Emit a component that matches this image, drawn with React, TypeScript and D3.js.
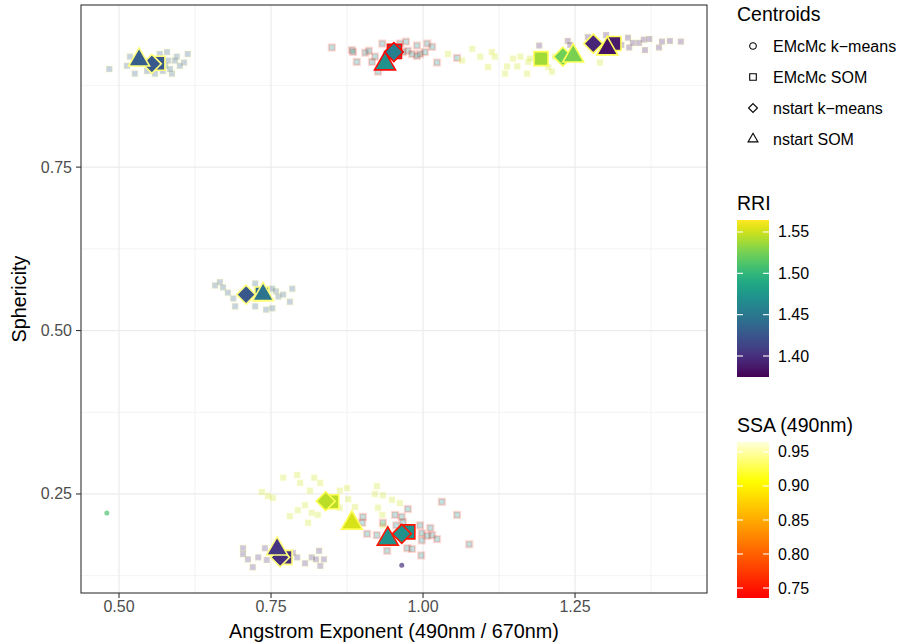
import React, { useEffect, useRef } from "react";
import * as d3 from "d3";

// axis limits and ticks
const xLimits = [0.4375, 1.467];
const yLimits = [0.0985, 0.998];
const xTicks = [0.5, 0.75, 1.0, 1.25];
const xMinor = [0.625, 0.875, 1.125, 1.375];
const yTicks = [0.25, 0.5, 0.75];
const yMinor = [0.125, 0.375, 0.625, 0.875];
const rriLimits = [1.3746, 1.5645];
const rriTicks = [1.4, 1.45, 1.5, 1.55];
const ssaLimits = [0.7353, 0.9647];
const ssaTicks = [0.75, 0.8, 0.85, 0.9, 0.95];

// background cluster members: [angstrom, sphericity]
const topLeftPts = [
  [0.484, 0.9], [0.518, 0.919], [0.526, 0.893], [0.513, 0.905], [0.567, 0.923],
  [0.579, 0.926], [0.595, 0.919], [0.613, 0.923], [0.607, 0.91], [0.587, 0.893],
  [0.576, 0.905], [0.581, 0.913], [0.559, 0.893], [0.584, 0.9], [0.592, 0.913],
  [0.535, 0.908], [0.572, 0.897], [0.546, 0.897], [0.57, 0.915], [0.6, 0.905],
];
const topMidPts = [
  [0.85, 0.933], [0.883, 0.929], [0.885, 0.926], [0.891, 0.911], [0.905, 0.925],
  [0.911, 0.928], [0.916, 0.911], [0.921, 0.919], [0.933, 0.939], [0.962, 0.939],
  [0.972, 0.942], [0.975, 0.928], [0.982, 0.923], [0.99, 0.936], [0.995, 0.923],
  [1.007, 0.939], [1.015, 0.934], [1.003, 0.926], [1.023, 0.91], [1.056, 0.917],
  [0.926, 0.896], [0.99, 0.92], [0.967, 0.926],
];
const topRightPalePts = [
  [1.041, 0.923], [1.064, 0.913], [1.081, 0.931], [1.094, 0.919], [1.107, 0.903],
  [1.113, 0.926], [1.118, 0.919], [1.135, 0.893], [1.138, 0.904], [1.148, 0.916],
  [1.16, 0.919], [1.155, 0.904], [1.171, 0.893], [1.173, 0.911], [1.176, 0.916],
  [1.206, 0.903], [1.212, 0.896], [1.217, 0.919], [1.291, 0.91],
];
const topRightDarkPts = [
  [1.191, 0.936], [1.238, 0.943], [1.242, 0.937], [1.271, 0.949], [1.301, 0.952],
  [1.326, 0.937], [1.337, 0.948], [1.339, 0.933], [1.345, 0.94], [1.355, 0.94],
  [1.363, 0.945], [1.365, 0.929], [1.372, 0.946], [1.388, 0.933], [1.393, 0.942],
  [1.406, 0.943], [1.424, 0.942],
];
const middlePts = [
  [0.658, 0.569], [0.666, 0.574], [0.671, 0.566], [0.679, 0.558], [0.688, 0.549],
  [0.691, 0.537], [0.724, 0.572], [0.724, 0.537], [0.742, 0.532], [0.752, 0.534],
  [0.758, 0.56], [0.762, 0.552], [0.77, 0.555], [0.785, 0.564], [0.781, 0.544],
  [0.752, 0.564],
];
const bottomDarkPts = [
  [0.704, 0.167], [0.704, 0.158], [0.712, 0.15], [0.72, 0.138], [0.729, 0.153],
  [0.74, 0.167], [0.743, 0.149], [0.786, 0.16], [0.793, 0.153], [0.806, 0.144],
  [0.817, 0.153], [0.824, 0.15], [0.829, 0.163], [0.831, 0.14], [0.837, 0.15],
  [0.781, 0.149],
];
const bottomPalePts = [
  [0.77, 0.275], [0.793, 0.279], [0.798, 0.267], [0.821, 0.275], [0.831, 0.267],
  [0.735, 0.253], [0.745, 0.247], [0.753, 0.244], [0.814, 0.255], [0.863, 0.255],
  [0.875, 0.259], [0.806, 0.233], [0.794, 0.225], [0.781, 0.216], [0.811, 0.206],
  [0.817, 0.221], [0.827, 0.218], [0.863, 0.229], [0.877, 0.242], [0.888, 0.23],
  [0.924, 0.262], [0.921, 0.25], [0.934, 0.248], [0.949, 0.241], [0.962, 0.236],
  [0.926, 0.229], [0.933, 0.218], [0.934, 0.202],
];
const bottomRedPts = [
  [0.901, 0.215], [0.9, 0.206], [0.908, 0.189], [0.924, 0.187], [0.934, 0.206],
  [0.954, 0.218], [0.956, 0.202], [0.965, 0.215], [0.967, 0.207], [0.975, 0.227],
  [0.995, 0.202], [0.998, 0.19], [0.998, 0.179], [1.012, 0.198], [1.015, 0.187],
  [1.023, 0.181], [1.031, 0.238], [1.056, 0.218], [1.076, 0.173], [0.974, 0.167],
  [0.982, 0.166], [0.997, 0.156], [0.941, 0.163], [1.007, 0.186],
];
const clusterPts = [
  topLeftPts, topMidPts, topRightPalePts, topRightDarkPts,
  middlePts, bottomDarkPts, bottomPalePts, bottomRedPts,
];
const clusterRRI = [1.43, 1.47, 1.55, 1.39, 1.43, 1.4, 1.55, 1.47];
const clusterSSA = [0.95, 0.75, 0.96, 0.95, 0.95, 0.95, 0.96, 0.75];

// centroids
const centroidMethod = [
  "EMcMc k-means", "EMcMc k-means",
  "EMcMc SOM", "EMcMc SOM", "EMcMc SOM", "EMcMc SOM", "EMcMc SOM", "EMcMc SOM", "EMcMc SOM", "EMcMc SOM",
  "nstart k-means", "nstart k-means", "nstart k-means", "nstart k-means", "nstart k-means", "nstart k-means", "nstart k-means", "nstart k-means",
  "nstart SOM", "nstart SOM", "nstart SOM", "nstart SOM", "nstart SOM", "nstart SOM", "nstart SOM", "nstart SOM",
];
const centroidX = [
  0.48, 0.965,
  0.564, 0.953, 1.194, 1.314, 0.735, 0.85, 0.975, 0.773,
  0.554, 0.952, 1.23, 1.28, 0.709, 0.84, 0.965, 0.765,
  0.533, 0.9375, 1.247, 1.303, 0.737, 0.883, 0.942, 0.76,
];
const centroidY = [
  0.221, 0.141,
  0.909, 0.927, 0.916, 0.939, 0.556, 0.238, 0.192, 0.153,
  0.908, 0.926, 0.919, 0.939, 0.555, 0.239, 0.189, 0.153,
  0.914, 0.908, 0.92, 0.931, 0.555, 0.2055, 0.181, 0.166,
];
const centroidRRI = [
  1.51, 1.4,
  1.426, 1.46, 1.538, 1.388, 1.44, 1.545, 1.47, 1.4,
  1.426, 1.455, 1.523, 1.394, 1.426, 1.545, 1.47, 1.4,
  1.43, 1.47, 1.526, 1.384, 1.447, 1.553, 1.47, 1.405,
];
const centroidSSA = [
  0.93, 0.93,
  0.94, 0.74, 0.93, 0.93, 0.94, 0.93, 0.75, 0.94,
  0.94, 0.74, 0.93, 0.93, 0.94, 0.93, 0.75, 0.94,
  0.94, 0.74, 0.93, 0.93, 0.94, 0.93, 0.75, 0.94,
];
const methods = ["EMcMc k-means", "EMcMc SOM", "nstart k-means", "nstart SOM"];
const methodLabels = ["EMcMc k\u2212means", "EMcMc SOM", "nstart k\u2212means", "nstart SOM"];

function heat(t) {
  t = Math.max(0, Math.min(1, t));
  if (t <= 0.75) return d3.rgb(255, Math.round((255 * t) / 0.75), 0).toString();
  return d3.interpolateRgb("#ffff00", "#ffffdc")((t - 0.75) / 0.25);
}

function shapePath(method, s) {
  if (method === "EMcMc k-means") return d3.symbol(d3.symbolCircle, Math.PI * s * s)();
  if (method === "EMcMc SOM") return `M${-s},${-s}H${s}V${s}H${-s}Z`;
  if (method === "nstart k-means") {
    const d = s * 1.35;
    return `M0,${-d}L${d},0L0,${d}L${-d},0Z`;
  }
  const h = s * 2.6;
  const w = h / Math.sqrt(3);
  return `M0,${(-2 * h) / 3}L${w},${h / 3}L${-w},${h / 3}Z`;
}

export default function App() {
  const ref = useRef(null);

  useEffect(() => {
    document.body.style.margin = "0";
    const width = 899;
    const height = 643;
    const panel = { left: 81, right: 707, top: 5, bottom: 593 };
    const font = "Liberation Sans, Arial, sans-serif";

    d3.select(ref.current).selectAll("*").remove();
    const svg = d3
      .select(ref.current)
      .append("svg")
      .attr("width", width)
      .attr("height", height)
      .style("display", "block")
      .style("font-family", font);

    const x = d3.scaleLinear().domain(xLimits).range([panel.left, panel.right]);
    const y = d3.scaleLinear().domain(yLimits).range([panel.bottom, panel.top]);
    const rriScale = d3.scaleSequential(d3.interpolateViridis).domain(rriLimits);
    const ssaScale = d3.scaleSequential(heat).domain(ssaLimits);

    svg.append("rect").attr("width", width).attr("height", height).attr("fill", "white");

    // grid
    const grid = svg.append("g");
    grid.selectAll(".vmin").data(xMinor).join("line")
      .attr("x1", (d) => x(d)).attr("x2", (d) => x(d))
      .attr("y1", panel.top).attr("y2", panel.bottom)
      .attr("stroke", "#ebebeb").attr("stroke-width", 0.6);
    grid.selectAll(".hmin").data(yMinor).join("line")
      .attr("y1", (d) => y(d)).attr("y2", (d) => y(d))
      .attr("x1", panel.left).attr("x2", panel.right)
      .attr("stroke", "#ebebeb").attr("stroke-width", 0.6);
    grid.selectAll(".vmaj").data(xTicks).join("line")
      .attr("x1", (d) => x(d)).attr("x2", (d) => x(d))
      .attr("y1", panel.top).attr("y2", panel.bottom)
      .attr("stroke", "#ebebeb").attr("stroke-width", 1.2);
    grid.selectAll(".hmaj").data(yTicks).join("line")
      .attr("y1", (d) => y(d)).attr("y2", (d) => y(d))
      .attr("x1", panel.left).attr("x2", panel.right)
      .attr("stroke", "#ebebeb").attr("stroke-width", 1.2);

    // background members
    const bg = svg.append("g");
    clusterPts.forEach((pts, i) => {
      bg.append("g")
        .selectAll("rect")
        .data(pts)
        .join("rect")
        .attr("x", (d) => x(d[0]) - 3)
        .attr("y", (d) => y(d[1]) - 3)
        .attr("width", 6)
        .attr("height", 6)
        .attr("fill", rriScale(clusterRRI[i]))
        .attr("fill-opacity", 0.28)
        .attr("stroke", ssaScale(clusterSSA[i]))
        .attr("stroke-opacity", 0.16)
        .attr("stroke-width", 2.2);
    });

    // centroids
    const idx = d3.range(centroidX.length);
    svg.append("g")
      .selectAll("path")
      .data(idx)
      .join("path")
      .attr("transform", (i) => `translate(${x(centroidX[i])},${y(centroidY[i])})`)
      .attr("d", (i) => shapePath(centroidMethod[i], centroidMethod[i] === "EMcMc k-means" ? 2.5 : 7))
      .attr("fill", (i) => rriScale(centroidRRI[i]))
      .attr("stroke", (i) => (centroidMethod[i] === "EMcMc k-means" ? "none" : ssaScale(centroidSSA[i])))
      .attr("stroke-width", 1.6)
      .attr("stroke-linejoin", "miter")
      .attr("opacity", (i) => (centroidMethod[i] === "EMcMc k-means" ? 0.7 : 1));

    // border
    svg.append("rect")
      .attr("x", panel.left).attr("y", panel.top)
      .attr("width", panel.right - panel.left).attr("height", panel.bottom - panel.top)
      .attr("fill", "none").attr("stroke", "#333333").attr("stroke-width", 1.1);

    // axes
    const xAxis = svg.append("g");
    xAxis.selectAll("line").data(xTicks).join("line")
      .attr("x1", (d) => x(d)).attr("x2", (d) => x(d))
      .attr("y1", panel.bottom).attr("y2", panel.bottom + 5)
      .attr("stroke", "#333333").attr("stroke-width", 1.1);
    xAxis.selectAll("text").data(xTicks).join("text")
      .attr("x", (d) => x(d)).attr("y", panel.bottom + 19)
      .attr("text-anchor", "middle").attr("font-size", 16).attr("fill", "#4d4d4d")
      .text((d) => d3.format(".2f")(d));
    const yAxis = svg.append("g");
    yAxis.selectAll("line").data(yTicks).join("line")
      .attr("y1", (d) => y(d)).attr("y2", (d) => y(d))
      .attr("x1", panel.left - 5).attr("x2", panel.left)
      .attr("stroke", "#333333").attr("stroke-width", 1.1);
    yAxis.selectAll("text").data(yTicks).join("text")
      .attr("x", panel.left - 9).attr("y", (d) => y(d) + 5.5)
      .attr("text-anchor", "end").attr("font-size", 16).attr("fill", "#4d4d4d")
      .text((d) => d3.format(".2f")(d));

    svg.append("text")
      .attr("x", (panel.left + panel.right) / 2).attr("y", 638)
      .attr("text-anchor", "middle").attr("font-size", 19.8).attr("fill", "black")
      .text("Angstrom Exponent (490nm / 670nm)");
    svg.append("text")
      .attr("transform", `translate(26,${(panel.top + panel.bottom) / 2}) rotate(-90)`)
      .attr("text-anchor", "middle").attr("font-size", 19.8).attr("fill", "black")
      .text("Sphericity");

    // legend: centroids
    const lx = 737;
    svg.append("text").attr("x", lx).attr("y", 21).attr("font-size", 19.5).text("Centroids");
    const keys = svg.append("g");
    methods.forEach((m, i) => {
      const cy = 46 + i * 31;
      keys.append("path")
        .attr("transform", `translate(753,${cy})`)
        .attr("d", shapePath(m, 3.3))
        .attr("fill", "white").attr("stroke", "black").attr("stroke-width", 1.1);
      keys.append("text").attr("x", 773).attr("y", cy + 5.5)
        .attr("font-size", 16).text(methodLabels[i]);
    });

    // colourbars
    const defs = svg.append("defs");
    function colourbar(id, title, titleY, top, bottom, scale, limits, ticks, fmt) {
      const grad = defs.append("linearGradient").attr("id", id)
        .attr("x1", 0).attr("x2", 0).attr("y1", 1).attr("y2", 0);
      d3.range(0, 1.0001, 0.05).forEach((t) => {
        grad.append("stop").attr("offset", t)
          .attr("stop-color", scale(limits[0] + t * (limits[1] - limits[0])));
      });
      svg.append("text").attr("x", lx).attr("y", titleY).attr("font-size", 19.5).text(title);
      const by = d3.scaleLinear().domain(limits).range([bottom, top]);
      svg.append("rect").attr("x", lx).attr("y", top).attr("width", 32)
        .attr("height", bottom - top).attr("fill", `url(#${id})`);
      const g = svg.append("g");
      ticks.forEach((t) => {
        g.append("line").attr("x1", lx).attr("x2", lx + 6).attr("y1", by(t)).attr("y2", by(t))
          .attr("stroke", "white").attr("stroke-width", 1.1);
        g.append("line").attr("x1", lx + 26).attr("x2", lx + 32).attr("y1", by(t)).attr("y2", by(t))
          .attr("stroke", "white").attr("stroke-width", 1.1);
        g.append("text").attr("x", lx + 41).attr("y", by(t) + 5.5)
          .attr("font-size", 16).text(fmt(t));
      });
    }
    colourbar("rri", "RRI", 210, 220, 377, rriScale, rriLimits, rriTicks, d3.format(".2f"));
    colourbar("ssa", "SSA (490nm)", 432, 442, 598, ssaScale, ssaLimits, ssaTicks, d3.format(".2f"));
  }, []);

  return <div ref={ref}></div>;
}
